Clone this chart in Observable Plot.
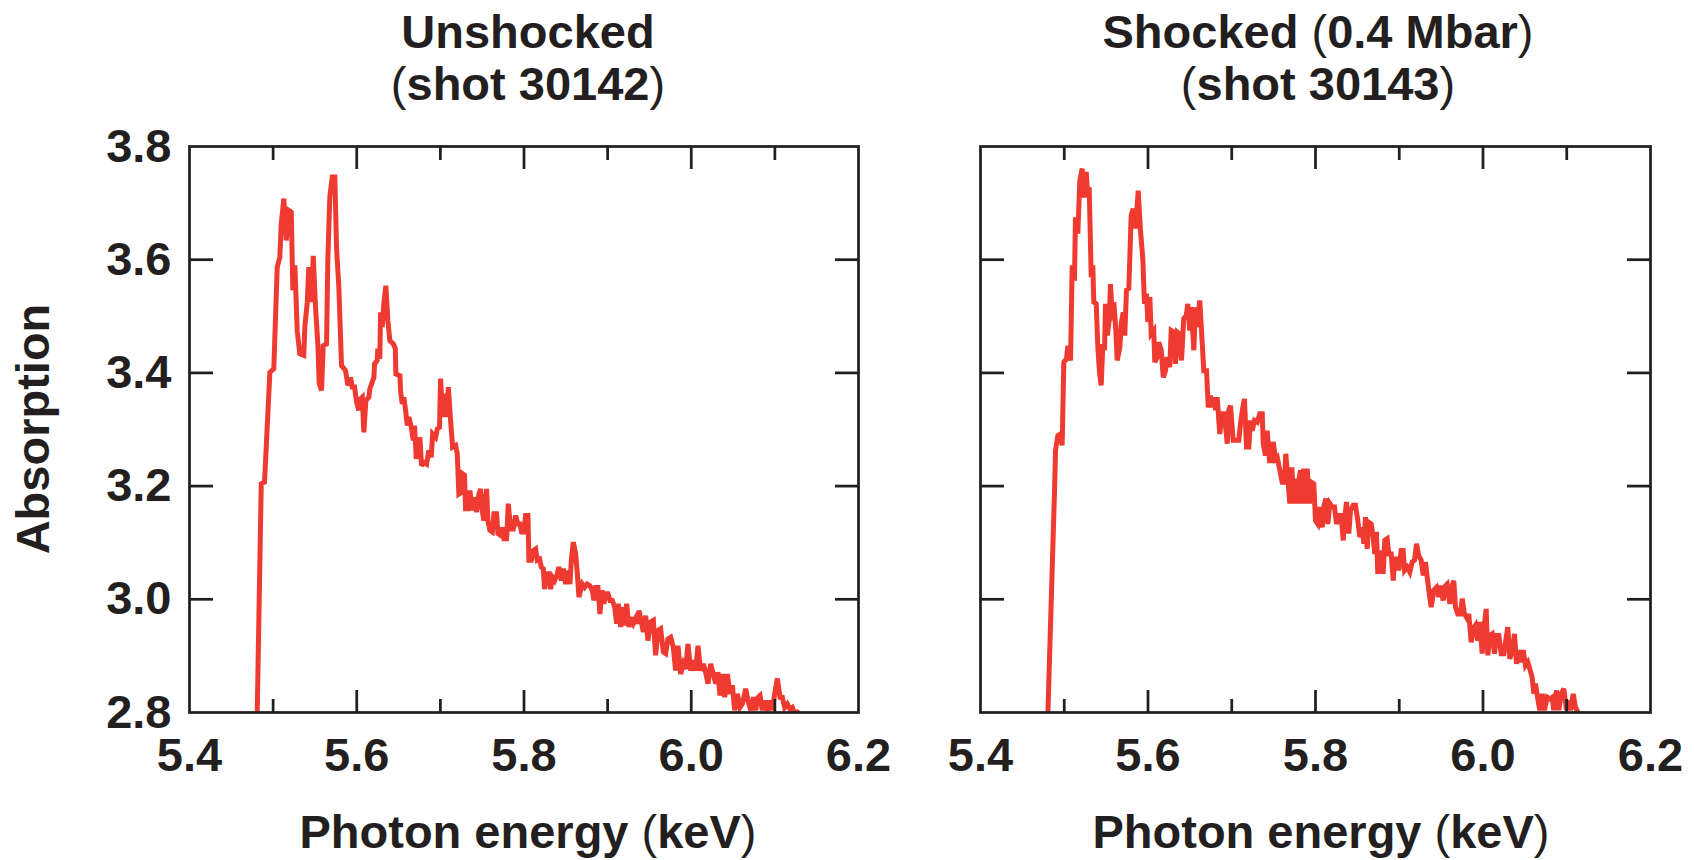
<!DOCTYPE html>
<html>
<head>
<meta charset="utf-8">
<script src="https://cdn.jsdelivr.net/npm/d3@7"></script>
<script src="https://cdn.jsdelivr.net/npm/@observablehq/plot@0.6"></script>
<style>
html, body { margin: 0; padding: 0; background: #ffffff; }
#root { position: relative; width: 1694px; height: 860px; overflow: hidden;
  font-family: "Liberation Sans", Arial, Helvetica, sans-serif; font-weight: bold; color: #231f20; }
.title { position: absolute; top: 0; width: 700px; text-align: center; font-size: 47px; line-height: 52px; padding-top: 6px; }
.xlabel { position: absolute; top: 806px; width: 700px; text-align: center; font-size: 47px; line-height: 52px; }
.ylabel { position: absolute; left: -167px; top: 403px; width: 400px; height: 52px; line-height: 52px;
  text-align: center; font-size: 47px; transform: rotate(-90deg); }
.p { font-weight: normal; }
.panel { position: absolute; top: 130px; }
</style>
</head>
<body>
<div id="root">
  <div class="title" style="left:178px">Unshocked<br><span class="p">(</span>shot 30142<span class="p">)</span></div>
  <div class="title" style="left:968px">Shocked <span class="p">(</span>0.4 Mbar<span class="p">)</span><br><span class="p">(</span>shot 30143<span class="p">)</span></div>
  <div class="ylabel">Absorption</div>
  <div class="panel" id="left" style="left:0px"></div>
  <div class="panel" id="right" style="left:880px"></div>
  <div class="xlabel" style="left:178px">Photon energy <span class="p">(</span>keV<span class="p">)</span></div>
  <div class="xlabel" style="left:971px">Photon energy <span class="p">(</span>keV<span class="p">)</span></div>
</div>
<script>
// ---- tick values ----
const xLabelTicks = [5.4, 5.6, 5.8, 6.0, 6.2];
const xMajorTicks = [5.6, 5.8, 6.0];
const xMinorTicks = [5.5, 5.7, 5.9, 6.1];
const yTicks = [3.0, 3.2, 3.4, 3.6];
const yLabelTicks = [2.8, 3.0, 3.2, 3.4, 3.6, 3.8];

// ---- Unshocked (shot 30142) ----
const unshockedEnergy = [5.4810,5.4858,5.4897,5.4961,5.5008,5.5049,5.5080,5.5097,5.5128,5.5157,5.5188,5.5217,5.5236,5.5260,5.5288,5.5319,5.5367,5.5379,5.5408,5.5427,5.5456,5.5480,5.5507,5.5535,5.5551,5.5579,5.5599,5.5639,5.5654,5.5678,5.5707,5.5738,5.5758,5.5786,5.5818,5.5866,5.5894,5.5926,5.5946,5.5974,5.5998,5.6025,5.6045,5.6066,5.6085,5.6109,5.6145,5.6157,5.6205,5.6213,5.6245,5.6252,5.6276,5.6285,5.6305,5.6324,5.6348,5.6372,5.6396,5.6437,5.6461,5.6468,5.6516,5.6524,5.6544,5.6563,5.6584,5.6604,5.6623,5.6652,5.6676,5.6691,5.6712,5.6731,5.6755,5.6775,5.6803,5.6835,5.6862,5.6891,5.6907,5.6943,5.6963,5.6990,5.7002,5.7030,5.7050,5.7074,5.7095,5.7122,5.7146,
5.7182,5.7202,5.7221,5.7250,5.7262,5.7289,5.7301,5.7329,5.7353,5.7382,5.7409,5.7433,5.7461,5.7481,5.7501,5.7520,5.7553,5.7568,5.7592,5.7621,5.7640,5.7672,5.7688,5.7720,5.7740,5.7760,5.7792,5.7812,5.7840,5.7872,5.7900,5.7927,5.7951,5.7971,5.7999,5.8019,5.8047,5.8059,5.8087,5.8111,5.8139,5.8159,5.8187,5.8207,5.8231,5.8246,5.8270,5.8298,5.8318,5.8339,5.8366,5.8398,5.8417,5.8446,5.8470,5.8498,5.8518,5.8549,5.8566,5.8590,5.8617,5.8638,5.8657,5.8677,5.8697,5.8725,5.8757,5.8788,5.8817,5.8836,5.8856,5.8884,5.8908,5.8932,5.8956,5.8976,5.9004,5.9028,5.9056,5.9084,5.9108,5.9128,5.9156,5.9176,5.9203,5.9227,5.9255,5.9275,5.9307,5.9335,5.9355,5.9375,
5.9427,5.9455,5.9482,5.9514,5.9547,5.9574,5.9602,5.9634,5.9666,5.9694,5.9721,5.9754,5.9786,5.9813,5.9841,5.9873,5.9906,5.9933,5.9961,5.9993,6.0025,6.0053,6.0080,6.0112,6.0145,6.0172,6.0200,6.0232,6.0264,6.0292,6.0319,6.0343,6.0372,6.0400,6.0432,6.0463,6.0492,6.0519,6.0551,6.0583,6.0611,6.0651,6.0678,6.0711,6.0743,6.0770,6.0798,6.0822,6.0850,6.0878,6.0910,6.0941,6.0970,6.0997,6.1030,6.1061,6.1089,6.1117,6.1149,6.1181,6.1209,6.1237,6.1269];
const unshockedAbsorption = [2.800,3.204,3.207,3.401,3.407,3.587,3.604,3.663,3.708,3.634,3.687,3.684,3.546,3.590,3.475,3.434,3.431,3.481,3.525,3.587,3.525,3.607,3.516,3.451,3.381,3.369,3.448,3.451,3.599,3.711,3.746,3.746,3.622,3.551,3.413,3.404,3.378,3.392,3.375,3.375,3.348,3.334,3.354,3.357,3.295,3.351,3.357,3.372,3.392,3.416,3.422,3.443,3.425,3.507,3.481,3.522,3.554,3.493,3.457,3.451,3.443,3.398,3.395,3.369,3.345,3.357,3.334,3.307,3.322,3.304,3.281,3.307,3.248,3.275,3.286,3.236,3.242,3.239,3.263,3.251,3.292,3.286,3.301,3.304,3.390,3.322,3.363,3.322,3.375,3.316,3.269,
3.272,3.257,3.186,3.189,3.222,3.219,3.160,3.160,3.192,3.157,3.180,3.154,3.186,3.195,3.157,3.139,3.195,3.139,3.122,3.119,3.151,3.151,3.116,3.113,3.127,3.107,3.107,3.169,3.124,3.124,3.148,3.133,3.133,3.119,3.119,3.148,3.148,3.069,3.069,3.086,3.089,3.069,3.071,3.057,3.054,3.018,3.045,3.045,3.018,3.039,3.033,3.045,3.057,3.033,3.054,3.027,3.051,3.027,3.069,3.101,3.081,3.045,3.004,3.016,3.027,3.021,3.027,3.024,3.016,2.998,3.021,3.021,2.974,3.016,2.992,3.010,3.010,2.998,2.998,2.986,2.957,2.992,2.951,2.986,2.954,2.992,2.951,2.968,2.957,2.966,2.957,2.980,
2.942,2.971,2.927,2.960,2.963,2.901,2.945,2.948,2.907,2.904,2.930,2.933,2.915,2.874,2.918,2.868,2.886,2.877,2.921,2.874,2.892,2.874,2.918,2.874,2.886,2.871,2.851,2.886,2.868,2.851,2.871,2.830,2.868,2.827,2.868,2.833,2.848,2.804,2.833,2.809,2.815,2.842,2.821,2.804,2.827,2.804,2.827,2.830,2.804,2.821,2.804,2.821,2.804,2.833,2.860,2.827,2.827,2.809,2.815,2.806,2.809,2.798,2.801];

// ---- Shocked 0.4 Mbar (shot 30143) ----
const shockedEnergy = [5.4805,5.4884,5.4896,5.4923,5.4955,5.4975,5.4995,5.5027,5.5043,5.5075,5.5095,5.5122,5.5134,5.5162,5.5186,5.5214,5.5234,5.5262,5.5282,5.5298,5.5322,5.5341,5.5353,5.5382,5.5401,5.5421,5.5441,5.5461,5.5481,5.5493,5.5513,5.5537,5.5552,5.5576,5.5592,5.5616,5.5632,5.5664,5.5680,5.5704,5.5723,5.5743,5.5771,5.5799,5.5823,5.5851,5.5883,5.5910,5.5938,5.5958,5.5982,5.5998,5.6022,5.6038,5.6069,5.6081,5.6110,5.6129,5.6158,5.6182,5.6209,5.6229,5.6260,5.6277,5.6308,5.6328,5.6349,5.6373,5.6400,5.6427,5.6456,5.6475,5.6499,5.6519,5.6547,5.6567,5.6587,5.6618,5.6639,5.6666,5.6699,5.6719,5.6746,5.6767,5.6786,5.6806,5.6826,5.6857,5.6886,5.6913,5.6946,5.6965,
5.6985,5.7017,5.7084,5.7104,5.7132,5.7152,5.7176,5.7204,5.7224,5.7244,5.7272,5.7304,5.7335,5.7364,5.7376,5.7403,5.7423,5.7451,5.7471,5.7495,5.7522,5.7543,5.7574,5.7602,5.7630,5.7645,5.7669,5.7693,5.7717,5.7741,5.7761,5.7781,5.7801,5.7821,5.7841,5.7860,5.7881,5.7901,5.7928,5.7949,5.7980,5.8000,5.8027,5.8051,5.8080,5.8099,5.8123,5.8147,5.8171,5.8199,5.8227,5.8251,5.8278,5.8307,5.8331,5.8346,5.8370,5.8398,5.8418,5.8450,5.8478,5.8505,5.8529,5.8558,5.8577,5.8597,5.8617,5.8636,5.8665,5.8689,5.8708,5.8728,5.8744,5.8776,5.8808,5.8827,5.8856,5.8875,5.8904,5.8928,5.8947,5.8975,5.8994,5.9023,5.9047,5.9063,5.9095,5.9126,5.9155,5.9182,5.9206,5.9233,5.9262,5.9286,5.9313,5.9334,5.9361,
5.9381,5.9413,5.9445,5.9472,5.9493,5.9525,5.9552,5.9572,5.9604,5.9632,5.9651,5.9672,5.9699,5.9731,5.9752,5.9779,5.9811,5.9830,5.9859,5.9883,5.9910,5.9938,5.9962,5.9990,6.0010,6.0038,6.0057,6.0081,6.0110,6.0137,6.0161,6.0189,6.0217,6.0248,6.0281,6.0296,6.0320,6.0349,6.0376,6.0400,6.0427,6.0456,6.0480,6.0507,6.0535,6.0559,6.0587,6.0607,6.0627,6.0654,6.0678,6.0707,6.0734,6.0767,6.0798,6.0826,6.0845,6.0878,6.0905,6.0934,6.0965,6.0997,6.1024,6.1045,6.1077,6.1104,6.1132];
const shockedAbsorption = [2.800,3.192,3.263,3.289,3.292,3.272,3.419,3.425,3.448,3.422,3.590,3.563,3.675,3.646,3.740,3.761,3.710,3.755,3.710,3.728,3.569,3.590,3.525,3.522,3.445,3.401,3.378,3.451,3.440,3.522,3.466,3.493,3.557,3.493,3.525,3.475,3.422,3.445,3.487,3.507,3.466,3.546,3.549,3.678,3.690,3.655,3.722,3.652,3.602,3.522,3.540,3.490,3.534,3.469,3.475,3.419,3.428,3.454,3.440,3.392,3.404,3.428,3.410,3.475,3.472,3.416,3.472,3.469,3.422,3.496,3.501,3.522,3.475,3.516,3.440,3.516,3.481,3.528,3.475,3.404,3.404,3.339,3.360,3.339,3.357,3.334,3.357,3.292,3.328,3.328,3.275,3.334,
3.342,3.281,3.281,3.310,3.339,3.354,3.269,3.269,3.316,3.298,3.316,3.313,3.328,3.328,3.275,3.254,3.298,3.245,3.245,3.278,3.248,3.251,3.228,3.207,3.207,3.257,3.216,3.169,3.233,3.169,3.213,3.169,3.210,3.228,3.169,3.231,3.169,3.231,3.169,3.207,3.204,3.139,3.133,3.163,3.127,3.163,3.178,3.133,3.169,3.163,3.163,3.133,3.148,3.148,3.104,3.139,3.172,3.116,3.157,3.166,3.166,3.139,3.110,3.127,3.098,3.145,3.089,3.136,3.133,3.110,3.080,3.119,3.045,3.086,3.045,3.104,3.107,3.080,3.080,3.033,3.071,3.071,3.051,3.086,3.086,3.051,3.057,3.048,3.066,3.069,3.098,3.077,3.069,3.042,3.066,3.039,3.007,
2.986,3.016,3.021,3.004,3.024,2.998,3.024,3.027,2.992,3.024,3.033,2.986,2.974,2.974,3.001,2.974,2.966,2.974,2.924,2.948,2.954,2.927,2.960,2.904,2.948,2.983,2.901,2.936,2.939,2.904,2.936,2.936,2.904,2.904,2.936,2.951,2.895,2.910,2.939,2.886,2.910,2.889,2.910,2.883,2.889,2.877,2.862,2.833,2.851,2.824,2.804,2.833,2.804,2.827,2.824,2.827,2.804,2.839,2.804,2.833,2.842,2.804,2.821,2.804,2.833,2.809,2.801];

const ink = "#231f20";
const red = "#ee3a30";
const font = "'Liberation Sans', Arial, Helvetica, sans-serif";

function panel(energy, absorption, {width, marginLeft, marginRight, showYLabels}) {
  const data = energy.map((x, i) => ({energy: x, absorption: absorption[i]}));
  const tick = {stroke: ink, strokeWidth: 2.75, label: null, tickFormat: () => ""};
  const textStyle = {label: null, tickSize: 0, fontSize: 47, fontWeight: "bold", fill: ink, tickFormat: d => d.toFixed(1)};
  return Plot.plot({
    width, height: 660,
    marginTop: 16, marginBottom: 78, marginLeft, marginRight,
    x: {domain: [5.4, 6.2]},
    y: {domain: [2.8, 3.8]},
    style: {fontFamily: font, fontSize: "47px", fontWeight: "bold", color: ink, background: "transparent", overflow: "visible"},
    marks: [
      Plot.line(data, {x: "energy", y: "absorption", stroke: red, strokeWidth: 5, strokeLinejoin: "miter", strokeMiterlimit: 3, clip: true}),
      Plot.axisX(xMinorTicks, {anchor: "bottom", tickSize: -13, ...tick}),
      Plot.axisX(xMajorTicks, {anchor: "bottom", tickSize: -22, ...tick}),
      Plot.axisX(xMinorTicks, {anchor: "top", tickSize: -13, ...tick}),
      Plot.axisX(xMajorTicks, {anchor: "top", tickSize: -22, ...tick}),
      Plot.axisY(yTicks, {anchor: "left", tickSize: -24, ...tick}),
      Plot.axisY(yTicks, {anchor: "right", tickSize: -24, ...tick}),
      Plot.axisX(xLabelTicks, {anchor: "bottom", tickPadding: 25, ...textStyle}),
      showYLabels ? Plot.axisY(yLabelTicks, {anchor: "left", tickPadding: 18, ...textStyle}) : null,
      Plot.frame({stroke: ink, strokeWidth: 2.75})
    ]
  });
}

document.getElementById("left").append(
  panel(unshockedEnergy, unshockedAbsorption, {width: 880, marginLeft: 189, marginRight: 22, showYLabels: true})
);
document.getElementById("right").append(
  panel(shockedEnergy, shockedAbsorption, {width: 814, marginLeft: 100, marginRight: 44, showYLabels: false})
);
</script>
</body>
</html>
